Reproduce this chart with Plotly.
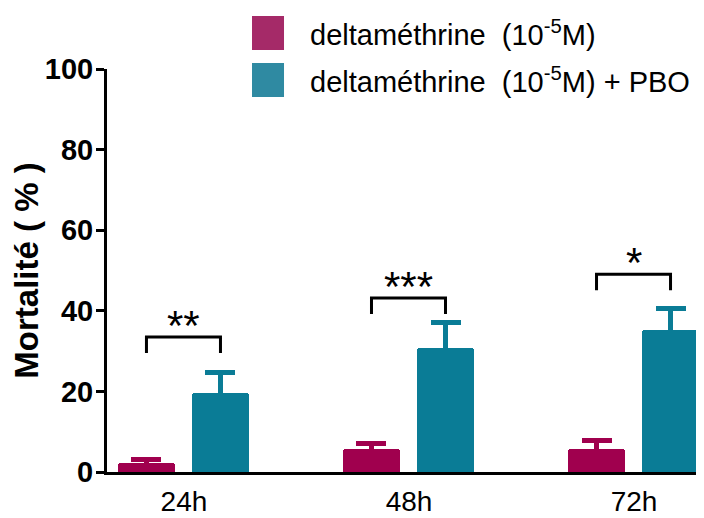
import plotly.graph_objects as go

# ---- data ----
categories = ["24h", "48h", "72h"]
delta_mean = [2.3, 5.8, 5.6]
delta_err = [0.8, 1.2, 2.3]
pbo_mean = [19.5, 30.8, 35.2]
pbo_err = [5.3, 6.2, 5.3]
sig_labels = ["**", "***", "*"]
sig_levels = [33.5, 43.2, 49.1]
y_ticks = [0, 20, 40, 60, 80, 100]

series_names = ["deltaméthrine\u00a0 (10<sup>-5</sup>M)",
                "deltaméthrine\u00a0 (10<sup>-5</sup>M) + PBO"]

# ---- style ----
C_DELTA = "#A0004E"
C_PBO = "#0A7C96"
C_DELTA_LEG = "#A52A68"
C_PBO_LEG = "#2F8AA2"
FONT = "Liberation Sans, Arial, sans-serif"

BAR_W = 0.2533
OFF_A = -0.2933
OFF_B = 0.0356
xs = list(range(len(categories)))
cA = [x + OFF_A + BAR_W / 2 for x in xs]
cB = [x + OFF_B + BAR_W / 2 for x in xs]

fig = go.Figure()
fig.add_trace(go.Bar(
    x=xs, y=delta_mean, width=BAR_W, offset=OFF_A,
    marker=dict(color=C_DELTA, line=dict(width=0), cornerradius=3),
    error_y=dict(type="data", array=delta_err, arrayminus=delta_mean, symmetric=False,
                 color=C_DELTA, thickness=5, width=15),
    name=series_names[0], showlegend=False))
fig.add_trace(go.Bar(
    x=xs, y=pbo_mean, width=BAR_W, offset=OFF_B,
    marker=dict(color=C_PBO, line=dict(width=0), cornerradius=3),
    error_y=dict(type="data", array=pbo_err, arrayminus=pbo_mean, symmetric=False,
                 color=C_PBO, thickness=5, width=15),
    name=series_names[1], showlegend=False))

shapes = []
annotations = []
DROP = 4.0
for i in range(len(categories)):
    lvl = sig_levels[i]
    shapes.append(dict(type="path", xref="x", yref="y",
                       path=f"M {cA[i]} {lvl - DROP} L {cA[i]} {lvl} L {cB[i]} {lvl} L {cB[i]} {lvl - DROP}",
                       line=dict(color="black", width=3)))
    annotations.append(dict(x=(cA[i] + cB[i]) / 2, y=lvl, xref="x", yref="y",
                            text=sig_labels[i], showarrow=False, yanchor="bottom",
                            yshift=-14,
                            font=dict(family=FONT, size=42, color="black")))

# legend (drawn manually for large swatches)
leg_items = [(series_names[0], C_DELTA_LEG, 1.1315, 1.0471, 1.0893),
             (series_names[1], C_PBO_LEG, 1.0149, 0.9305, 0.9727)]
for name, col, y0, y1, yc in leg_items:
    shapes.append(dict(type="rect", xref="paper", yref="paper",
                       x0=0.2429, x1=0.2965, y0=y1, y1=y0,
                       fillcolor=col, line=dict(width=0)))
    annotations.append(dict(x=0.3367, y=yc, xref="paper", yref="paper",
                            text=name, showarrow=False, xanchor="left", yanchor="middle",
                            font=dict(family=FONT, size=29, color="black")))

# page body has an 8px default margin, so the figure is sized to fit the window
fig.update_layout(
    width=696, height=510,
    margin=dict(l=99, r=0, t=61, b=46),
    paper_bgcolor="white", plot_bgcolor="white",
    shapes=shapes, annotations=annotations,
    showlegend=False,
    bargap=0,
    xaxis=dict(range=[-0.342, 2.311], tickvals=xs, ticktext=categories,
               showline=True, linecolor="black", linewidth=3, ticks="",
               showgrid=False, zeroline=False, automargin=False,
               tickfont=dict(family=FONT, size=28, color="black"),
               ticklabelstandoff=2, fixedrange=True),
    yaxis=dict(range=[0, 100], tickvals=y_ticks,
               showline=True, linecolor="black", linewidth=3,
               ticks="outside", ticklen=8, tickwidth=3, tickcolor="black",
               showgrid=False, zeroline=False, automargin=False,
               tickfont=dict(family=FONT, size=29, color="black", weight="bold"),
               ticklabelstandoff=-3,
               title=dict(text="Mortalité ( % )", standoff=6,
                          font=dict(family=FONT, size=33, color="black", weight="bold")),
               fixedrange=True),
)

fig.write_html("out.html")
